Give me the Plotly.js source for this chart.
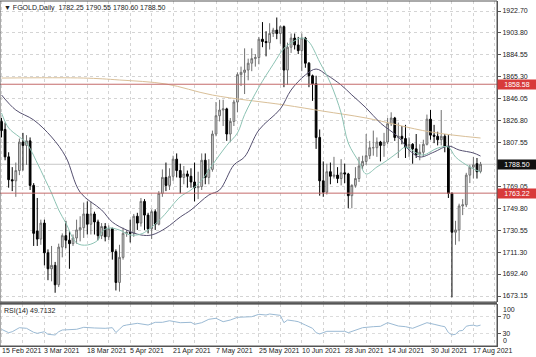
<!DOCTYPE html>
<html><head><meta charset="utf-8">
<script src="https://cdn.plot.ly/plotly-3.0.1.min.js"></script>
<style>html,body{margin:0;padding:0;background:#fff}#chart{width:536px;height:357px}</style>
</head><body><div id="chart"></div>
<script>
// ---- data ----
const dates = [
'2021-02-15','2021-02-16','2021-02-17','2021-02-18','2021-02-19','2021-02-22','2021-02-23','2021-02-24','2021-02-25','2021-02-26',
'2021-03-01','2021-03-02','2021-03-03','2021-03-04','2021-03-05','2021-03-08','2021-03-09','2021-03-10','2021-03-11','2021-03-12',
'2021-03-14','2021-03-15','2021-03-16','2021-03-17','2021-03-18','2021-03-19','2021-03-22','2021-03-23','2021-03-24','2021-03-25',
'2021-03-26','2021-03-29','2021-03-30','2021-03-31','2021-04-01','2021-04-02','2021-04-05','2021-04-06','2021-04-07','2021-04-08',
'2021-04-09','2021-04-12','2021-04-13','2021-04-14','2021-04-15','2021-04-16','2021-04-19','2021-04-20','2021-04-21','2021-04-22',
'2021-04-23','2021-04-26','2021-04-27','2021-04-28','2021-04-29','2021-04-30','2021-05-03','2021-05-04','2021-05-05','2021-05-06',
'2021-05-07','2021-05-10','2021-05-11','2021-05-12','2021-05-13','2021-05-14','2021-05-17','2021-05-18','2021-05-19','2021-05-20',
'2021-05-21','2021-05-24','2021-05-25','2021-05-26','2021-05-27','2021-05-28','2021-05-31','2021-06-01','2021-06-02','2021-06-03',
'2021-06-04','2021-06-07','2021-06-08','2021-06-09','2021-06-10','2021-06-11','2021-06-14','2021-06-15','2021-06-16','2021-06-17',
'2021-06-18','2021-06-21','2021-06-22','2021-06-23','2021-06-24','2021-06-25','2021-06-28','2021-06-29','2021-06-30','2021-07-01',
'2021-07-02','2021-07-05','2021-07-06','2021-07-07','2021-07-08','2021-07-09','2021-07-12','2021-07-13','2021-07-14','2021-07-15',
'2021-07-16','2021-07-19','2021-07-20','2021-07-21','2021-07-22','2021-07-23','2021-07-26','2021-07-27','2021-07-28','2021-07-29',
'2021-07-30','2021-08-02','2021-08-03','2021-08-04','2021-08-05','2021-08-06','2021-08-09','2021-08-10','2021-08-11','2021-08-12',
'2021-08-13','2021-08-16','2021-08-17','2021-08-18','2021-08-19'];

const openP = [
1826,1819,1795,1775,1774,1783,1808,1805,1809,1770,
1730,1723,1737,1711,1697,1700,1683,1716,1726,1722,
1719,1724,1731,1733,1745,1736,1745,1738,1726,1734,
1725,1732,1712,1685,1707,1728,1729,1728,1743,1737,
1756,1744,1732,1747,1736,1763,1777,1770,1778,1793,
1783,1777,1780,1778,1773,1768,1769,1792,1777,1784,
1815,1831,1836,1837,1815,1826,1843,1867,1869,1871,
1877,1881,1882,1898,1896,1895,1903,1906,1903,1909,
1871,1891,1899,1893,1888,1899,1877,1866,1859,1812,
1774,1764,1782,1778,1779,1776,1781,1780,1761,1770,
1776,1787,1791,1796,1803,1803,1808,1805,1808,1824,
1829,1812,1813,1811,1803,1806,1802,1797,1799,1806,
1828,1814,1813,1810,1813,1804,1763,1729,1731,1752,
1753,1779,1786,1789,1782.25];
const highP = [
1829,1825,1799,1786,1790,1811,1816,1814,1812,1772,
1759,1740,1740,1714,1717,1703,1719,1728,1739,1730,
1727,1740,1743,1755,1756,1756,1747,1740,1737,1737,
1735,1733,1714,1718,1733,1731,1740,1745,1746,1759,
1758,1746,1749,1749,1765,1784,1790,1785,1796,1798,
1789,1787,1783,1785,1790,1782,1798,1798,1793,1818,
1843,1845,1845,1838,1829,1845,1869,1874,1890,1881,
1890,1885,1900,1913,1905,1912,1908,1917,1910,1910,
1895,1903,1903,1900,1903,1900,1878,1867,1866,1819,
1791,1789,1790,1795,1786,1793,1789,1781,1771,1786,
1795,1796,1815,1809,1818,1812,1809,1816,1829,1834,
1830,1825,1822,1823,1812,1807,1815,1806,1810,1832,
1836,1823,1817,1836,1815,1814,1764,1739,1754,1758,
1781,1788,1795,1794,1790.55];
const lowP = [
1812,1792,1768,1765,1760,1779,1783,1788,1766,1717,
1717,1718,1700,1687,1686,1676,1681,1707,1715,1697,
1717,1719,1721,1724,1727,1727,1727,1722,1723,1721,
1722,1705,1678,1677,1705,1725,1720,1725,1731,1734,
1731,1728,1723,1731,1735,1760,1765,1766,1774,1777,
1763,1771,1768,1768,1756,1758,1766,1771,1771,1782,
1813,1826,1822,1809,1808,1822,1834,1857,1850,1862,
1870,1874,1876,1891,1883,1889,1900,1898,1894,1856,
1858,1886,1889,1885,1870,1873,1856,1844,1802,1761,
1760,1762,1771,1776,1772,1770,1772,1750,1750,1768,
1773,1784,1788,1793,1796,1795,1791,1795,1806,1822,
1809,1794,1806,1794,1795,1789,1794,1792,1795,1805,
1810,1807,1805,1805,1799,1759,1672,1718,1721,1744,
1751,1772,1776,1776,1780.60];
const closeP = [
1818,1795,1775,1774,1783,1808,1805,1809,1770,1728,
1723,1737,1711,1697,1700,1683,1716,1726,1722,1719,
1724,1731,1733,1745,1736,1745,1738,1726,1734,1725,
1732,1712,1685,1707,1728,1729,1728,1743,1737,1756,
1744,1732,1747,1736,1763,1777,1770,1778,1793,1783,
1777,1780,1778,1773,1768,1769,1792,1777,1784,1815,
1831,1836,1837,1815,1826,1843,1867,1869,1871,1877,
1881,1882,1898,1896,1895,1903,1906,1903,1909,1871,
1891,1899,1893,1888,1899,1877,1866,1859,1812,1774,
1764,1782,1778,1779,1776,1781,1780,1761,1770,1776,
1787,1791,1796,1803,1803,1808,1805,1808,1824,1829,
1812,1813,1811,1803,1806,1802,1797,1799,1806,1828,
1814,1813,1810,1813,1804,1763,1729,1731,1752,1753,
1779,1786,1788,1782,1788.50];

// moving averages, read at sample dates
const slowMaDates = ['2021-02-15','2021-03-17','2021-03-31','2021-04-19','2021-05-06','2021-06-03','2021-06-18','2021-07-06','2021-07-30','2021-08-19'];
const slowMaValues = [1864.0,1864.0,1862.3,1858.8,1849.1,1840.5,1835.0,1829.0,1816.8,1811.5];

const midMaDates = ['2021-02-15','2021-02-19','2021-02-26','2021-03-05','2021-03-11','2021-03-16','2021-03-24','2021-03-29','2021-04-02','2021-04-08',
'2021-04-13','2021-04-19','2021-04-23','2021-04-28','2021-05-05','2021-05-10','2021-05-14','2021-05-19','2021-05-25','2021-06-02',
'2021-06-07','2021-06-11','2021-06-16','2021-06-21','2021-06-25','2021-06-30','2021-07-06','2021-07-12','2021-07-19','2021-07-22',
'2021-07-27','2021-08-02','2021-08-06','2021-08-11','2021-08-17','2021-08-19'];
const midMaValues = [1849.2,1836.0,1827.3,1812.4,1794.9,1764.0,1748.5,1737.9,1730.9,1726.6,
1726.6,1732.7,1742.3,1748.5,1761.6,1766.0,1787.9,1795.0,1818.5,1837.0,
1853.5,1866.7,1871.9,1866.7,1857.9,1849.2,1837.8,1824.6,1812.4,1801.0,
1794.9,1799.2,1804.5,1801.0,1798.4,1795.7];

const fastMaDates = ['2021-02-15','2021-02-17','2021-02-22','2021-02-24','2021-03-01','2021-03-03','2021-03-05','2021-03-09','2021-03-11','2021-03-15',
'2021-03-18','2021-03-23','2021-03-24','2021-03-26','2021-03-31','2021-04-05','2021-04-08','2021-04-12','2021-04-16','2021-04-23',
'2021-04-28','2021-05-03','2021-05-06','2021-05-12','2021-05-17','2021-05-19','2021-05-25','2021-05-31','2021-06-03','2021-06-07',
'2021-06-10','2021-06-14','2021-06-17','2021-06-22','2021-06-25','2021-06-29','2021-07-02','2021-07-06','2021-07-09','2021-07-14',
'2021-07-19','2021-07-21','2021-07-26','2021-07-28','2021-08-03','2021-08-06','2021-08-10','2021-08-16','2021-08-19'];
const fastMaValues = [1833.4,1820.3,1812.4,1807.1,1789.6,1776.5,1763.3,1748.5,1737.1,1719.6,
1717.8,1722.2,1729.2,1732.7,1730.9,1726.6,1727.4,1730.9,1742.3,1760.0,
1766.0,1774.7,1788.0,1805.0,1815.9,1832.0,1856.0,1876.0,1890.0,1894.7,
1899.1,1895.6,1878.0,1859.7,1833.4,1807.1,1790.5,1780.0,1786.1,1792.2,
1799.2,1803.6,1798.4,1796.6,1802.7,1803.6,1794.9,1786.1,1781.7];

const rsiDates = ['2021-02-15','2021-02-17','2021-02-18','2021-02-22','2021-02-24','2021-02-26','2021-03-01','2021-03-03','2021-03-04','2021-03-08',
'2021-03-09','2021-03-10','2021-03-15','2021-03-17','2021-03-22','2021-03-25','2021-03-29','2021-03-30','2021-03-31','2021-04-01',
'2021-04-02','2021-04-05','2021-04-07','2021-04-12','2021-04-14','2021-04-16','2021-04-20','2021-04-23','2021-04-28','2021-04-29',
'2021-05-03','2021-05-05','2021-05-07','2021-05-11','2021-05-13','2021-05-17','2021-05-21','2021-05-25','2021-05-27','2021-05-28',
'2021-06-01','2021-06-02','2021-06-03','2021-06-04','2021-06-08','2021-06-09','2021-06-11','2021-06-15','2021-06-16','2021-06-17',
'2021-06-21','2021-06-24','2021-06-28','2021-06-29','2021-07-01','2021-07-05','2021-07-08','2021-07-12','2021-07-14','2021-07-16',
'2021-07-19','2021-07-21','2021-07-23','2021-07-29','2021-07-30','2021-08-02','2021-08-04','2021-08-05','2021-08-06','2021-08-09',
'2021-08-10','2021-08-11','2021-08-12','2021-08-13','2021-08-16','2021-08-17','2021-08-18','2021-08-19'];
const rsiValues = [39.8,31.7,34.0,43.6,42.1,32.6,30.2,34.0,27.9,26.2,
34.0,38.1,39.8,44.5,42.9,42.1,43.6,32.0,40.0,48.0,
50.0,51.7,54.0,50.0,56.4,56.4,60.2,55.5,56.4,51.7,
55.5,63.6,66.0,57.9,61.9,68.3,69.8,75.5,73.8,76.2,
73.8,73.0,55.5,61.9,59.5,57.9,50.0,42.1,31.7,28.6,
35.0,35.0,35.0,31.7,38.1,43.6,46.0,46.9,55.5,50.0,
47.6,46.0,42.1,55.5,54.0,51.7,47.6,46.0,32.0,26.5,
28.0,36.0,37.0,47.0,49.0,49.5,47.5,49.7132];

const tickDates = ['2021-02-15','2021-03-03','2021-03-18','2021-04-05','2021-04-21','2021-05-07','2021-05-25','2021-06-10','2021-06-28','2021-07-14','2021-07-30','2021-08-17'];
const tickLabels = ['15 Feb 2021','3 Mar 2021','18 Mar 2021','5 Apr 2021','21 Apr 2021','7 May 2021','25 May 2021','10 Jun 2021','28 Jun 2021','14 Jul 2021','30 Jul 2021','17 Aug 2021'];
const priceTicks = [1922.70,1903.80,1884.55,1865.30,1846.05,1826.80,1807.55,1788.30,1769.05,1749.80,1730.55,1711.30,1692.40,1673.15];
const priceTickText = ['1922.70','1903.80','1884.55','1865.30','1846.05','1826.80','1807.55','','1769.05','1749.80','1730.55','1711.30','1692.40','1673.15'];
const levelLines = [1858.58,1763.22];
const lastPrice = 1788.50;
const headerText = '\u25BC FGOLD,Daily  1782.25 1790.55 1780.60 1788.50';
const rsiText = 'RSI(14) 49.7132';

// ---- build ----
const idx = d => dates.indexOf(d);
const xs = dates.map((d, i) => i);
const F = 'Liberation Sans, Arial, sans-serif';

const gridVals = [];
tickDates.forEach(d => { const i = idx(d); gridVals.push(i, i + 6); });

const traces = [
  {type:'candlestick', x: xs, open: openP, high: highP, low: lowP, close: closeP,
   xaxis:'x', yaxis:'y', whiskerwidth: 0,
   increasing:{line:{color:'#707070', width:1}, fillcolor:'#d8d8d8'},
   decreasing:{line:{color:'#000000', width:1}, fillcolor:'#000000'},
   hoverinfo:'skip', showlegend:false},
  {type:'scatter', mode:'lines', x: slowMaDates.map(idx), y: slowMaValues, xaxis:'x', yaxis:'y',
   line:{color:'#d9bf98', width:1, shape:'spline'}, hoverinfo:'skip', showlegend:false},
  {type:'scatter', mode:'lines', x: midMaDates.map(idx), y: midMaValues, xaxis:'x', yaxis:'y',
   line:{color:'#555070', width:1, shape:'spline'}, hoverinfo:'skip', showlegend:false},
  {type:'scatter', mode:'lines', x: fastMaDates.map(idx), y: fastMaValues, xaxis:'x', yaxis:'y',
   line:{color:'#8dc3b4', width:1, shape:'spline'}, hoverinfo:'skip', showlegend:false},
  {type:'scatter', mode:'lines', x: rsiDates.map(idx), y: rsiValues, xaxis:'x', yaxis:'y2',
   line:{color:'#9bbad4', width:1}, hoverinfo:'skip', showlegend:false}
];

const shapes = [];
levelLines.forEach(v => shapes.push({type:'line', xref:'paper', x0:0, x1:1, yref:'y', y0:v, y1:v,
  line:{color:'#c46a6a', width:1}}));
shapes.push({type:'line', xref:'paper', x0:0, x1:1, yref:'y', y0:lastPrice, y1:lastPrice,
  line:{color:'#c8c8c8', width:1}, layer:'below'});
shapes.push({type:'rect', xref:'paper', yref:'paper', x0:0, x1:1, y0:0.1275, y1:1, line:{color:'#555555', width:1}});
shapes.push({type:'rect', xref:'paper', yref:'paper', x0:0, x1:1, y0:0, y1:0.1217, line:{color:'#555555', width:1}});
shapes.push({type:'line', xref:'paper', yref:'paper', x0:0, x1:1, y0:0.124, y1:0.124, line:{color:'#555555', width:2}});

const annotations = [
  {xref:'paper', yref:'paper', x:0.004, y:0.997, xanchor:'left', yanchor:'top', text: headerText, showarrow:false,
   font:{family:F, size:7, color:'#222'}},
  {xref:'paper', yref:'paper', x:0.004, y:0.118, xanchor:'left', yanchor:'top', text: rsiText, showarrow:false,
   font:{family:F, size:7, color:'#222'}},
  {xref:'paper', yref:'y2', x:1, y:100, xanchor:'left', yanchor:'top', xshift:4, text:'100', showarrow:false,
   font:{family:F, size:7, color:'#222'}},
  {xref:'paper', yref:'y2', x:1, y:0, xanchor:'left', yanchor:'bottom', xshift:4, text:'0', showarrow:false,
   font:{family:F, size:7, color:'#222'}},
  {xref:'paper', yref:'y', x:1, y:levelLines[0], xanchor:'left', text: levelLines[0].toFixed(2), showarrow:false,
   bgcolor:'#d83a3a', width:36, borderpad:1, font:{family:F, size:7, color:'#fff'}},
  {xref:'paper', yref:'y', x:1, y:levelLines[1], xanchor:'left', text: levelLines[1].toFixed(2), showarrow:false,
   bgcolor:'#d83a3a', width:36, borderpad:1, font:{family:F, size:7, color:'#fff'}},
  {xref:'paper', yref:'y', x:1, y:lastPrice, xanchor:'left', text: lastPrice.toFixed(2), showarrow:false,
   bgcolor:'#111', width:36, borderpad:1, font:{family:F, size:7, color:'#fff'}}
];
// date labels, left-aligned at their grid line (terminal style)
tickDates.forEach((d, k) => annotations.push({xref:'x', yref:'paper', x: idx(d), y:0, xanchor:'left', yanchor:'top',
  xshift:-1, yshift:0, text: tickLabels[k], showarrow:false, borderpad:0, font:{family:F, size:7, color:'#222'}}));

const layout = {
  width:536, height:357, margin:{l:0, r:39, t:1, b:11},
  paper_bgcolor:'#fff', plot_bgcolor:'#fff',
  font:{family:F, size:7, color:'#222'},
  showlegend:false, dragmode:false,
  xaxis:{anchor:'y2', range:[-0.42, 138.6], tickmode:'array', tickvals: gridVals, showticklabels:false, ticks:'',
    showgrid:true, gridcolor:'#d4d4d4', griddash:'dot', gridwidth:1,
    showline:true, linecolor:'#555', zeroline:false, rangeslider:{visible:false}, fixedrange:true},
  yaxis:{domain:[0.1275, 1], range:[1667.9, 1931.46], side:'right', tickmode:'array',
    tickvals: priceTicks, ticktext: priceTickText,
    ticks:'outside', ticklen:3, tickcolor:'#555', showgrid:true, gridcolor:'#d4d4d4', griddash:'dot',
    showline:true, linecolor:'#555', zeroline:false, fixedrange:true,
    tickfont:{family:F, size:7, color:'#222'}},
  yaxis2:{domain:[0, 0.1217], range:[0, 100], side:'right', tickmode:'array', tickvals:[70,30], ticktext:['70','30'],
    ticks:'outside', ticklen:3, tickcolor:'#555', showgrid:true, gridcolor:'#dcdcdc', griddash:'dot',
    showline:true, linecolor:'#555', zeroline:false, fixedrange:true,
    tickfont:{family:F, size:7, color:'#222'}},
  shapes, annotations
};

Plotly.newPlot('chart', traces, layout, {staticPlot:true, displayModeBar:false});
</script></body></html>
